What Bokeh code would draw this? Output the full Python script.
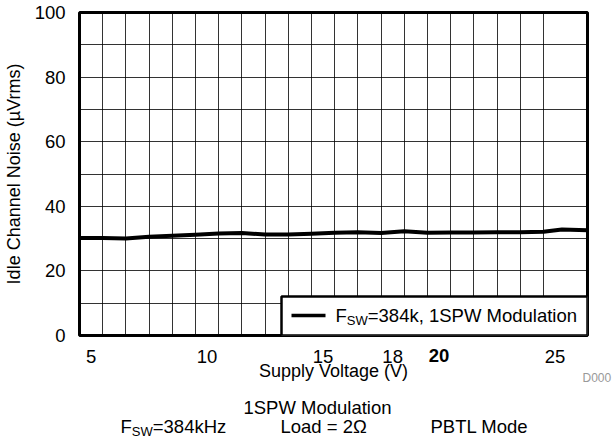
from bokeh.plotting import figure
from bokeh.layouts import column
from bokeh.models import Range1d, FixedTicker, Label, BoxAnnotation
from bokeh.embed import file_html
from bokeh.resources import INLINE

# ---- data ----
voltage = [4.5, 5.5, 6.5, 7.5, 8.5, 9.5, 10.5, 11.5, 12.5, 13.5, 14.5, 15.5,
           16.5, 17.5, 18.5, 19.5, 20.5, 21.5, 22.5, 23.5, 24.5, 25.3, 26.4]
noise = [30.2, 30.2, 30.0, 30.6, 30.9, 31.2, 31.6, 31.7, 31.3, 31.3, 31.5, 31.8,
         32.0, 31.7, 32.3, 31.8, 31.9, 31.9, 32.0, 32.0, 32.1, 32.8, 32.6]

x_tick_values = [5, 10, 15, 18, 20, 25]
x_tick_labels = ["5", "10", "15", "18", "20", "25"]
bold_tick = 20
y_tick_values = [0, 20, 40, 60, 80, 100]
x_grid_values = [5.5 + i for i in range(20)]
y_grid_values = [10, 20, 30, 40, 50, 60, 70, 80, 90]

x_label = "Supply Voltage (V)"
y_label = "Idle Channel Noise (\u00b5Vrms)"
series_label = ("F", "SW", "=384k, 1SPW Modulation")
caption_title = "1SPW Modulation"
caption_fsw = ("F", "SW", "=384kHz")
caption_load = "Load = 2\u03a9"
caption_mode = "PBTL Mode"
doc_id = "D000"

FONT = "Liberation Sans"
FS = 18.5     # tick labels, legend, captions
AX = 18       # axis titles
SUB = 13      # subscripts

p = figure(frame_width=508, frame_height=323,
           min_border_left=69, min_border_right=28, min_border_top=12, min_border_bottom=60,
           x_range=Range1d(4.5, 26.4), y_range=Range1d(0, 100),
           output_backend="svg", toolbar_location=None,
           background_fill_color="white", border_fill_color="white")

# axes
p.xaxis.ticker = FixedTicker(ticks=x_tick_values)
p.xaxis.major_label_overrides = {v: (t if v != bold_tick else "") for v, t in zip(x_tick_values, x_tick_labels)}
p.yaxis.ticker = FixedTicker(ticks=y_tick_values)
for ax in (p.xaxis[0], p.yaxis[0]):
    ax.axis_line_color = None
    ax.major_tick_line_color = None
    ax.minor_tick_line_color = None
    ax.major_label_text_font = FONT
    ax.major_label_text_font_size = f"{FS}px"
    ax.major_label_text_color = "black"
    ax.axis_label_text_font = FONT
    ax.axis_label_text_font_size = f"{AX}px"
    ax.axis_label_text_font_style = "normal"
    ax.axis_label_text_color = "black"
p.xaxis.axis_label = x_label
p.yaxis.axis_label = y_label
p.xaxis.major_label_standoff = 8
p.xaxis.axis_label_standoff = -5
p.yaxis.major_label_standoff = 8
p.yaxis.axis_label_standoff = 8

# grid
p.xgrid.ticker = FixedTicker(ticks=x_grid_values)
p.ygrid.ticker = FixedTicker(ticks=y_grid_values)
for g in (p.xgrid[0], p.ygrid[0]):
    g.grid_line_color = "black"
    g.grid_line_alpha = 0.8
    g.grid_line_width = 1

p.outline_line_color = "black"
p.outline_line_width = 3
p.outline_line_alpha = 1

# series
p.line(voltage, noise, line_color="black", line_width=4, line_join="round")

# legend (manual, with subscript)
p.add_layout(BoxAnnotation(left=202, right=508, bottom=0, top=39,
                           left_units="screen", right_units="screen", bottom_units="screen", top_units="screen",
                           fill_color="white", fill_alpha=1, line_color="black", line_width=2.5, line_alpha=1))
p.add_layout(BoxAnnotation(left=212, right=246, bottom=18.2, top=21.8,
                           left_units="screen", right_units="screen", bottom_units="screen", top_units="screen",
                           fill_color="black", fill_alpha=1, line_color=None))


def lab(fig, x, y, text, place=None, fs=FS, units="screen", **kw):
    l = Label(x=x, y=y, x_units=units, y_units="screen", text=text, text_font=FONT,
              text_font_size=f"{fs}px", text_baseline=kw.pop("baseline", "middle"),
              text_color=kw.pop("color", "black"), **kw)
    if place:
        fig.add_layout(l, place)
    else:
        fig.add_layout(l)


def sub_text(fig, x0, y0, parts, fs=FS, sub=SUB):
    wF = 0.611 * fs
    wS = 1.611 * sub
    lab(fig, x0, y0, parts[0], fs=fs)
    lab(fig, x0 + wF, y0 - 5, parts[1], fs=sub)
    lab(fig, x0 + wF + wS, y0, parts[2], fs=fs)


sub_text(p, 256, 20, series_label)

# bold tick label in its own below panel, shifted up onto the tick-label row
lab(p, bold_tick, 48, x_tick_labels[x_tick_values.index(bold_tick)], "below", units="data",
    text_font_style="bold", text_align="center", baseline="top")
# document id in the right panel, below the frame
lab(p, -5, -42, doc_id, "right", fs=12, color="#999999")

# caption strip (its frame is aligned with the main frame by the column layout)
c = figure(frame_width=508, frame_height=42,
           min_border_left=69, min_border_right=28, min_border_top=0, min_border_bottom=0,
           x_range=Range1d(0, 1), y_range=Range1d(0, 1),
           x_axis_location=None, y_axis_location=None,
           output_backend="svg", toolbar_location=None,
           background_fill_color="white", border_fill_color="white")
c.grid.visible = False
c.outline_line_color = None
lab(c, 238, 31, caption_title, text_align="center")
sub_text(c, 41, 12, caption_fsw)
lab(c, 201, 12, caption_load)
lab(c, 351, 12, caption_mode)

open("out.html", "w").write(file_html(column(p, c, spacing=0), INLINE))
